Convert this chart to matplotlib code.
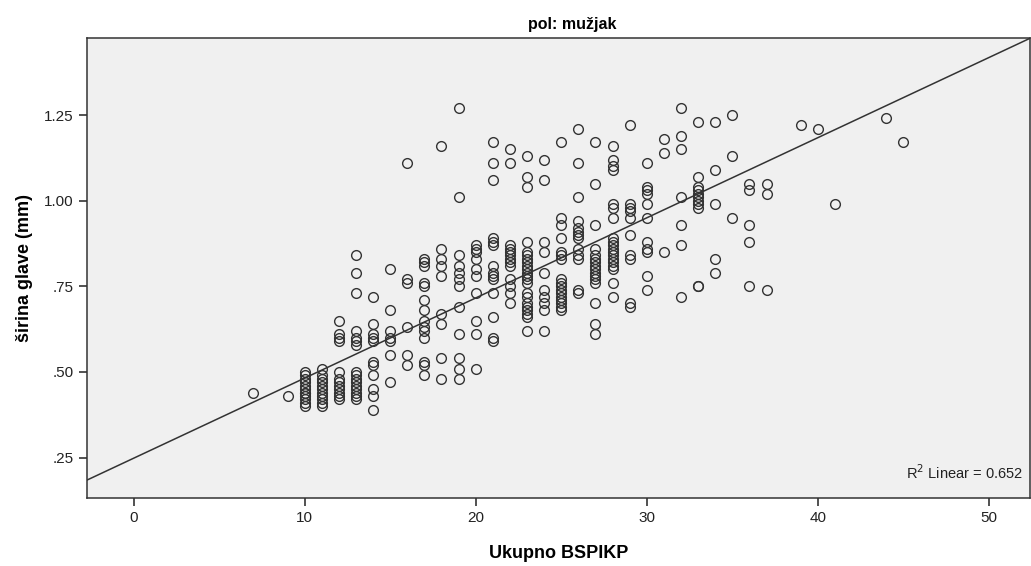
import matplotlib
matplotlib.use('Agg')
import matplotlib.pyplot as plt
import numpy as np

# sirina glave (mm) for each value of Ukupno BSPIKP
w07 = [0.44]
w09 = [0.43]
w10 = [0.40, 0.41, 0.42, 0.43, 0.44, 0.44, 0.45, 0.46, 0.47, 0.48, 0.49, 0.50]
w11 = [0.40, 0.41, 0.42, 0.43, 0.44, 0.45, 0.46, 0.47, 0.48, 0.49, 0.51]
w12 = [0.42, 0.43, 0.44, 0.45, 0.46, 0.47, 0.48, 0.50, 0.59, 0.60, 0.61, 0.65]
w13 = [0.42, 0.43, 0.44, 0.45, 0.46, 0.47, 0.48, 0.49, 0.50, 0.58, 0.59, 0.60, 0.62, 0.73, 0.79, 0.84]
w14 = [0.39, 0.43, 0.45, 0.49, 0.52, 0.53, 0.59, 0.60, 0.61, 0.64, 0.72]
w15 = [0.47, 0.55, 0.59, 0.60, 0.62, 0.68, 0.80]
w16 = [0.52, 0.55, 0.63, 0.76, 0.77, 1.11]
w17 = [0.49, 0.52, 0.53, 0.60, 0.62, 0.63, 0.65, 0.68, 0.71, 0.75, 0.76, 0.81, 0.82, 0.83]
w18 = [0.48, 0.54, 0.64, 0.67, 0.78, 0.81, 0.83, 0.86, 1.16]
w19 = [0.48, 0.51, 0.54, 0.61, 0.69, 0.75, 0.77, 0.79, 0.81, 0.84, 1.01, 1.27]
w20 = [0.51, 0.61, 0.65, 0.73, 0.78, 0.80, 0.83, 0.85, 0.86, 0.87]
w21 = [0.59, 0.60, 0.66, 0.73, 0.77, 0.78, 0.79, 0.81, 0.87, 0.88, 0.89, 1.06, 1.11, 1.17]
w22 = [0.70, 0.73, 0.75, 0.77, 0.81, 0.82, 0.83, 0.84, 0.85, 0.86, 0.87, 1.11, 1.15]
w23 = [0.62, 0.66, 0.67, 0.68, 0.69, 0.70, 0.72, 0.73, 0.76, 0.77, 0.78, 0.79, 0.80,
       0.81, 0.82, 0.83, 0.84, 0.85, 0.88, 1.04, 1.07, 1.13]
w24 = [0.62, 0.68, 0.70, 0.72, 0.74, 0.79, 0.85, 0.88, 1.06, 1.12]
w25 = [0.68, 0.69, 0.70, 0.71, 0.72, 0.73, 0.74, 0.75, 0.76, 0.77, 0.83, 0.84, 0.85,
       0.89, 0.93, 0.95, 1.17]
w26 = [0.73, 0.74, 0.83, 0.84, 0.86, 0.89, 0.90, 0.91, 0.92, 0.94, 1.01, 1.11, 1.21]
w27 = [0.61, 0.64, 0.70, 0.76, 0.77, 0.78, 0.79, 0.80, 0.81, 0.82, 0.83, 0.84, 0.86,
       0.93, 1.05, 1.17]
w28 = [0.72, 0.76, 0.80, 0.81, 0.82, 0.83, 0.84, 0.85, 0.86, 0.87, 0.88, 0.89, 0.95,
       0.98, 0.99, 1.09, 1.10, 1.12, 1.16]
w29 = [0.69, 0.70, 0.83, 0.84, 0.90, 0.95, 0.97, 0.98, 0.99, 1.22]
w30 = [0.74, 0.78, 0.85, 0.86, 0.88, 0.95, 0.99, 1.02, 1.03, 1.04, 1.11]
w31 = [0.85, 1.14, 1.18]
w32 = [0.72, 0.87, 0.93, 1.01, 1.15, 1.19, 1.27]
w33 = [0.75, 0.75, 0.98, 0.99, 1.00, 1.01, 1.02, 1.03, 1.04, 1.07, 1.23]
w34 = [0.79, 0.83, 0.99, 1.09, 1.23]
w35 = [0.95, 1.13, 1.25]
w36 = [0.75, 0.88, 0.93, 1.03, 1.05]
w37 = [0.74, 1.02, 1.05]
w39 = [1.22]
w40 = [1.21]
w41 = [0.99]
w44 = [1.24]
w45 = [1.17]

groups = {7: w07, 9: w09, 10: w10, 11: w11, 12: w12, 13: w13, 14: w14, 15: w15,
          16: w16, 17: w17, 18: w18, 19: w19, 20: w20, 21: w21, 22: w22, 23: w23,
          24: w24, 25: w25, 26: w26, 27: w27, 28: w28, 29: w29, 30: w30, 31: w31,
          32: w32, 33: w33, 34: w34, 35: w35, 36: w36, 37: w37, 39: w39, 40: w40,
          41: w41, 44: w44, 45: w45}

# fit line as drawn in the chart
fit_intercept = 0.248
fit_slope = 0.0234
r2_text = 'R$^2$ Linear = 0.652'

x_ticks = [0, 10, 20, 30, 40, 50]
y_ticks = [0.25, 0.50, 0.75, 1.00, 1.25]
y_tick_labels = ['.25', '.50', '.75', '1.00', '1.25']

plt.rcParams['font.family'] = ['Liberation Sans Narrow', 'Liberation Sans', 'DejaVu Sans']

x = []
y = []
for k, vals in groups.items():
    x += [k] * len(vals)
    y += vals

fig = plt.figure(figsize=(10.31, 5.66), dpi=100)
ax = fig.add_axes([87 / 1031, 1 - 498 / 566, 943 / 1031, 460 / 566])
ax.set_facecolor('#f0f0f0')

ax.plot(x, y, 'o', mfc='none', mec='#333333', mew=1.0, ms=7.0, zorder=3)
ax.axline((0, fit_intercept), slope=fit_slope, color='#333333', lw=1.1, zorder=2)

ax.set_xlim(-2.72, 52.4)
ax.set_ylim(0.132, 1.475)
ax.set_xticks(x_ticks)
ax.set_yticks(y_ticks)
ax.set_yticklabels(y_tick_labels)
ax.tick_params(axis='both', direction='out', length=6, width=1.1, labelsize=11,
               colors='#222222')
for s in ax.spines.values():
    s.set_color('#333333')
    s.set_linewidth(1.1)

ax.text(0.993, 0.055, r2_text, transform=ax.transAxes, ha='right', va='center',
        fontsize=10.5, color='#222222')

ax.set_xlabel('Ukupno BSPIKP', fontsize=13, fontweight='bold', labelpad=14)
ax.set_ylabel('širina glave (mm)', fontsize=13, fontweight='bold', labelpad=8)
fig.text(572 / 1031, 1 - 24 / 566, 'pol: mužjak', ha='center', va='center',
         fontsize=11.5, fontweight='bold')

fig.savefig('out.png', dpi=100)
